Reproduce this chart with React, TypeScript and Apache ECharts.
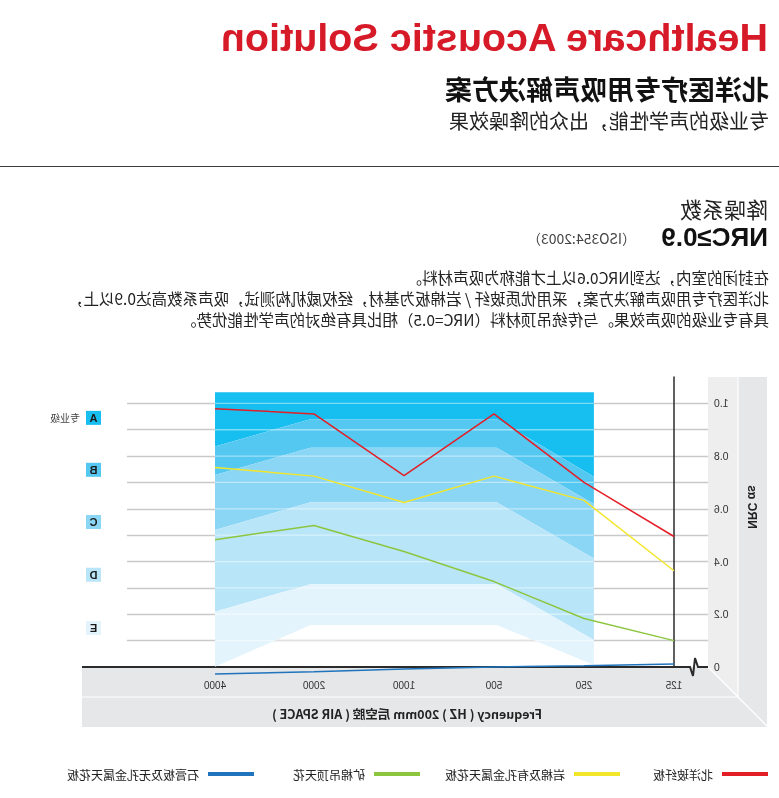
import React, { useEffect, useRef } from "react";
import * as echarts from "echarts";

// ---------- data ----------
const frequencies = ["125", "250", "500", "1000", "2000", "4000"];
const freqPosition = [0, 1, 2, 3, 4, 5.1];

const seriesNames = ["北洋玻纤板", "岩棉及有孔金属天花板", "矿棉吊顶天花", "石膏板及无孔金属天花板"];
const seriesColors = ["#e31e26", "#f2e62a", "#8cc63f", "#1f74bd"];
const beiyangGlassFiber = [0.495, 0.7, 0.96, 0.726, 0.96, 0.98];
const rockWoolPerforated = [0.365, 0.632, 0.724, 0.624, 0.724, 0.757];
const mineralWoolBoard = [0.1, 0.184, 0.324, 0.438, 0.537, 0.483];
const gypsumUnperforated = [0.011, 0.005, 0.0, -0.008, -0.018, -0.027];
const seriesValues = [beiyangGlassFiber, rockWoolPerforated, mineralWoolBoard, gypsumUnperforated];

const yTickLabels = [0, 0.2, 0.4, 0.6, 0.8, 1.0];
const gridLevels = [0.1, 0.2, 0.3, 0.4, 0.5, 0.6, 0.7, 0.8, 0.9, 1.0];

const gradeLetters = ["A", "B", "C", "D", "E"];
const gradeLevels = [0.945, 0.748, 0.55, 0.35, 0.148];
const gradeColors = ["#17bff0", "#55c8f2", "#8bd5f5", "#b9e5f9", "#e3f4fc"];
const gradeNote = "专业级";

// grade band boundaries (x in frequency-index units)
const bandX = [0.89, 1.97, 4.04, 5.1];
const bandTop = [1.042, 1.042, 1.042, 1.042];
const bandEdgeA = [0.722, 0.94, 0.94, 0.836];
const bandEdgeB = [0.618, 0.832, 0.832, 0.728];
const bandEdgeC = [0.412, 0.625, 0.625, 0.52];
const bandEdgeD = [0.102, 0.314, 0.314, 0.21];
const bandEdgeE = [0.008, 0.159, 0.159, 0.001];
const bandEdges = [bandTop, bandEdgeA, bandEdgeB, bandEdgeC, bandEdgeD, bandEdgeE];

const titleText = "Healthcare Acoustic Solution";
const subtitleText = "北洋医疗专用吸声解决方案";
const taglineText = "专业级的声学性能，出众的降噪效果";
const nrcHeading = "降噪系数";
const nrcValue = "NRC≥0.9";
const nrcStandard = "（ISO354:2003）";
const paragraphLines = [
  "在封闭的室内，达到NRC0.6以上才能称为吸声材料。",
  "北洋医疗专用吸声解决方案，采用优质玻纤 / 岩棉板为基材，经权威机构测试，吸声系数高达0.9以上，",
  "具有专业级的吸声效果。与传统吊顶材料（NRC=0.5）相比具有绝对的声学性能优势。",
];
const xAxisName = "Frequency ( HZ ) 200mm 后空腔 ( AIR SPACE )";
const yAxisName = "NRC αs";

const CJK = '"Noto Sans CJK SC", "Noto Sans", sans-serif';
const LATIN = '"Liberation Sans", Arial, sans-serif';

function buildOption() {
  const floorColor = "#e6e7e8";
  const gradeRich: Record<string, any> = {
    note: { fontSize: 10, color: "#444", fontFamily: CJK, padding: [0, 0, 0, 6] },
  };
  gradeColors.forEach((c, i) => {
    gradeRich["g" + i] = {
      backgroundColor: c,
      width: 15,
      height: 14,
      lineHeight: 14,
      align: "center",
      fontWeight: "bold",
      fontSize: 11,
      color: "#1a1a1a",
      fontFamily: LATIN,
    };
  });

  const graphic: any[] = [
    // header
    {
      type: "text", x: 11, y: 37, z: 10,
      style: { text: titleText, fontSize: 39.5, fontWeight: "bold", fontFamily: LATIN, fill: "#d71a28", textVerticalAlign: "middle" },
    },
    {
      type: "text", x: 10, y: 88, z: 10,
      style: { text: subtitleText, fontSize: 27, fontWeight: "bold", fontFamily: CJK, fill: "#111", textVerticalAlign: "middle" },
    },
    {
      type: "text", x: 10, y: 120, z: 10,
      style: { text: taglineText, fontSize: 20, fontFamily: CJK, fill: "#222", textVerticalAlign: "middle" },
    },
    { type: "line", z: 10, shape: { x1: 0, y1: 166.5, x2: 779, y2: 166.5 }, style: { stroke: "#3c3c3c", lineWidth: 1 } },
    {
      type: "text", x: 11, y: 208, z: 10,
      style: { text: nrcHeading, fontSize: 22, fontFamily: CJK, fill: "#222", textVerticalAlign: "middle" },
    },
    {
      type: "text", x: 11, y: 237, z: 10,
      style: { text: nrcValue, fontSize: 26, fontWeight: "bold", fontFamily: LATIN, fill: "#111", textVerticalAlign: "middle" },
    },
    {
      type: "text", x: 143, y: 238, z: 10,
      style: { text: nrcStandard, fontSize: 14, fontFamily: CJK, fill: "#444", textVerticalAlign: "middle" },
    },
    ...paragraphLines.map((t, i) => ({
      type: "text", x: 10, y: 277 + i * 21, z: 10,
      style: { text: t, fontSize: 15.5, fontFamily: CJK, fill: "#222", textVerticalAlign: "middle" },
    })),
    // floor and wall
    { type: "rect", z: -1, shape: { x: 12, y: 377, width: 29, height: 350 }, style: { fill: floorColor } },
    { type: "rect", z: -1, shape: { x: 41, y: 377, width: 30, height: 320 }, style: { fill: "#eeeeef" } },
    { type: "rect", z: -1, shape: { x: 41, y: 667, width: 656, height: 60 }, style: { fill: floorColor } },
    { type: "polygon", z: -1, shape: { points: [[41, 667], [71, 667], [41, 697]] }, style: { fill: "#eeeeef" } },
    { type: "line", z: -1, shape: { x1: 41, y1: 697, x2: 697, y2: 697 }, style: { stroke: "#ffffff", lineWidth: 1.2 } },
    { type: "line", z: -1, shape: { x1: 41, y1: 377, x2: 41, y2: 697 }, style: { stroke: "#ffffff", lineWidth: 1.2 } },
    { type: "polyline", z: -1, shape: { points: [[71, 667], [41, 697], [12, 726]] }, style: { stroke: "#ffffff", lineWidth: 1.2, fill: null } },
    // x axis line with break
    {
      type: "polyline", z: 1,
      shape: { points: [[71, 667], [81, 667], [84, 658], [86, 676], [89, 667], [697, 667]] },
      style: { stroke: "#2b2b2b", lineWidth: 2, fill: null },
    },
    {
      type: "text", x: 372, y: 713, z: 10,
      style: { text: xAxisName, fontSize: 12.5, fontWeight: "bold", fontFamily: CJK, fill: "#222", textAlign: "center", textVerticalAlign: "middle" },
    },
    {
      type: "text", x: 27, y: 507, z: 10, rotation: Math.PI / 2,
      style: { text: yAxisName, fontSize: 12, fontWeight: "bold", fontFamily: LATIN, fill: "#222", textAlign: "center", textVerticalAlign: "middle" },
    },
  ];

  const bandSeries = {
    type: "custom",
    name: "bands",
    z: 2,
    silent: true,
    clip: false,
    data: gradeColors.map((_, i) => i),
    renderItem: (params: any, api: any) => {
      const i = params.dataIndex;
      const upper = bandEdges[i];
      const lower = bandEdges[i + 1];
      const pts: number[][] = bandX.map((x, k) => api.coord([x, upper[k]]));
      for (let k = bandX.length - 1; k >= 0; k--) pts.push(api.coord([bandX[k], lower[k]]));
      return { type: "polygon", shape: { points: pts }, style: { fill: gradeColors[i] } };
    },
  };

  const whiteLineSeries = {
    type: "custom",
    name: "bandLines",
    z: 3,
    silent: true,
    clip: false,
    data: gridLevels.map((_, i) => i),
    renderItem: (params: any, api: any) => {
      const lvl = gridLevels[params.dataIndex];
      const p1 = api.coord([bandX[0], lvl]);
      const p2 = api.coord([bandX[bandX.length - 1], lvl]);
      return {
        type: "line",
        shape: { x1: p1[0], y1: p1[1], x2: p2[0], y2: p2[1] },
        style: { stroke: "rgba(255,255,255,0.45)", lineWidth: 1.3 },
      };
    },
  };

  const lineSeries = seriesNames.map((name, s) => ({
    type: "line",
    name,
    z: 5,
    clip: false,
    symbol: "none",
    data: freqPosition.map((x, k) => [x, seriesValues[s][k]]),
    lineStyle: { color: seriesColors[s], width: 1.5 },
    itemStyle: { color: seriesColors[s] },
  }));

  const legendLefts = [11, 159, 359, 525];
  const legend = seriesNames.map((name, i) => ({
    data: [name],
    left: legendLefts[i],
    top: 768,
    padding: 0,
    icon: "rect",
    itemWidth: 46,
    itemHeight: 4,
    selectedMode: false,
    textStyle: { fontSize: 12, color: "#222", fontFamily: CJK, padding: [0, 0, 0, 4] },
  }));

  return {
    animation: false,
    backgroundColor: "#ffffff",
    textStyle: { fontFamily: CJK },
    grid: { left: 71, right: 127, top: 377, bottom: 131, containLabel: false },
    legend,
    xAxis: {
      type: "value",
      min: -0.378,
      max: 6.078,
      z: 1,
      axisLine: { show: false },
      axisTick: { show: false },
      splitLine: { show: false },
      axisLabel: {
        customValues: freqPosition,
        formatter: (v: number) => {
          let idx = 0;
          freqPosition.forEach((p, k) => {
            if (Math.abs(p - v) < Math.abs(freqPosition[idx] - v)) idx = k;
          });
          return frequencies[idx];
        },
        margin: 13,
        fontSize: 10,
        color: "#333",
        fontFamily: LATIN,
      },
    },
    yAxis: [
      {
        type: "value",
        min: 0,
        max: 1.1,
        interval: 0.1,
        z: 1,
        axisLine: { show: true, lineStyle: { color: "#2b2b2b", width: 1.5 } },
        axisTick: { show: false },
        splitLine: { show: true, showMinLine: false, showMaxLine: false, lineStyle: { color: "#c9c9c9", width: 1.3 } },
        axisLabel: {
          customValues: yTickLabels,
          formatter: (v: number) => (Math.abs(v) < 1e-9 ? "0" : v.toFixed(1)),
          margin: 6,
          fontSize: 10.5,
          color: "#333",
          fontFamily: LATIN,
          padding: [0, 0, 7, 0],
        },
      },
      {
        type: "value",
        min: 0,
        max: 1.1,
        position: "right",
        z: 1,
        axisLine: { show: false },
        axisTick: { show: false },
        splitLine: { show: false },
        axisLabel: {
          customValues: gradeLevels,
          margin: 26,
          formatter: (v: number) => {
            let idx = 0;
            gradeLevels.forEach((g, k) => {
              if (Math.abs(g - v) < Math.abs(gradeLevels[idx] - v)) idx = k;
            });
            return "{g" + idx + "|" + gradeLetters[idx] + "}" + (idx === 0 ? "{note|" + gradeNote + "}" : "");
          },
          rich: gradeRich,
        },
      },
    ],
    graphic,
    series: [bandSeries, whiteLineSeries, ...lineSeries],
  };
}

export default function App() {
  const ref = useRef<HTMLDivElement>(null);
  useEffect(() => {
    if (!ref.current) return;
    const chart = echarts.init(ref.current, null, { renderer: "svg", width: 779, height: 798 });
    chart.setOption(buildOption() as any);
    return () => chart.dispose();
  }, []);
  return (
    <div
      ref={ref}
      style={{
        position: "fixed",
        left: 0,
        top: 0,
        width: 779,
        height: 798,
        background: "#ffffff",
        transform: "scaleX(-1)",
      }}
    />
  );
}
